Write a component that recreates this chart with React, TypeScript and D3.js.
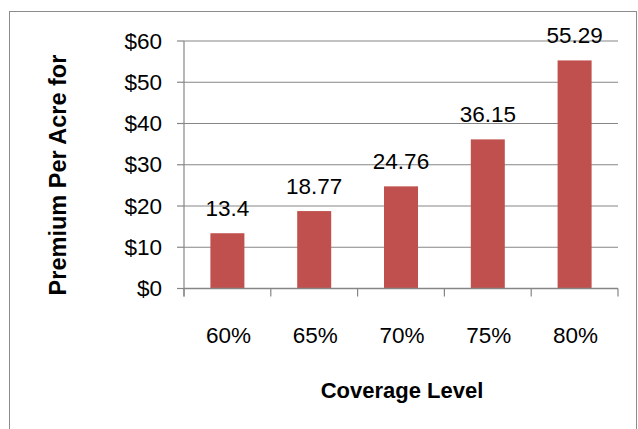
import React from "react";
import * as d3 from "d3";

const categories = ["60%", "65%", "70%", "75%", "80%"];
const values = [13.4, 18.77, 24.76, 36.15, 55.29];
const valueLabels = ["13.4", "18.77", "24.76", "36.15", "55.29"];
const yTicks = [0, 10, 20, 30, 40, 50, 60];
const yTitle = "Premium Per Acre for";
const xTitle = "Coverage Level";

export default function App() {
  const W = 638, H = 429;
  const left = 184, right = 618, top = 41, bottom = 288.5;
  const x = d3.scaleBand<string>().domain(categories).range([left, right]).paddingInner(0).paddingOuter(0);
  const y = d3.scaleLinear().domain([0, 60]).range([bottom, top]);
  const barW = 34;
  const font = "'Liberation Sans', Arial, sans-serif";
  const grid = "#868686";
  const boundaries = categories.map((c) => x(c)!).concat([right]);

  return (
    <svg width={W} height={H} style={{ position: "absolute", left: 0, top: 0, background: "#fff" }} fontFamily={font}>
      <rect x={9.5} y={11.5} width={627} height={430} fill="#fff" stroke="#8c8c8c" strokeWidth={1} />
      {yTicks.map((t) => (
        <g key={t}>
          <line x1={left} x2={right} y1={y(t)} y2={y(t)} stroke={grid} strokeWidth={1.2} />
          <line x1={left - 7} x2={left} y1={y(t)} y2={y(t)} stroke={grid} strokeWidth={1.2} />
          <text x={162} y={y(t)} textAnchor="end" dominantBaseline="central" fontSize={22.5} fill="#000">
            {d3.format("$")(t).replace(".00", "")}
          </text>
        </g>
      ))}
      {categories.map((c, i) => (
        <rect key={c} x={x(c)! + x.bandwidth() / 2 - barW / 2} y={y(values[i])} width={barW} height={y(0) - y(values[i])} fill="#C0504D" />
      ))}
      <line x1={left} x2={left} y1={top} y2={bottom + 8} stroke={grid} strokeWidth={1.2} />
      <line x1={left} x2={right} y1={bottom} y2={bottom} stroke={grid} strokeWidth={1.5} />
      {boundaries.map((b, i) => (
        <line key={i} x1={b} x2={b} y1={bottom} y2={bottom + 8} stroke={grid} strokeWidth={1.2} />
      ))}
      {categories.map((c, i) => (
        <text key={c} x={x(c)! + x.bandwidth() / 2} y={y(values[i]) - 17} textAnchor="middle" fontSize={22.5} fill="#000">
          {valueLabels[i]}
        </text>
      ))}
      {categories.map((c) => (
        <text key={c} x={x(c)! + x.bandwidth() / 2 + 1} y={343} textAnchor="middle" fontSize={22.5} fill="#000">
          {c}
        </text>
      ))}
      <text x={402} y={398} textAnchor="middle" fontSize={22} fontWeight="bold" fill="#000">
        {xTitle}
      </text>
      <text transform={`translate(66,175) rotate(-90)`} textAnchor="middle" fontSize={23.5} fontWeight="bold" fill="#000">
        {yTitle}
      </text>
    </svg>
  );
}
